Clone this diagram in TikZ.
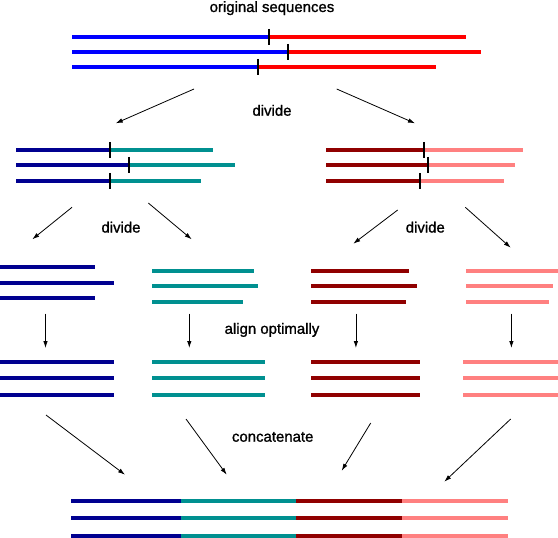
\documentclass[tikz,border=0pt]{standalone}
\usepackage{fontspec}
\setmainfont[FakeBold=1.2]{Liberation Sans}
\usetikzlibrary{arrows.meta}
\definecolor{seqblue}{RGB}{0,0,255}
\definecolor{seqred}{RGB}{255,0,0}
\definecolor{dblue}{RGB}{0,0,144}
\definecolor{dteal}{RGB}{0,144,144}
\definecolor{dred}{RGB}{144,0,0}
\definecolor{lpink}{RGB}{255,128,128}
\begin{document}
\begin{tikzpicture}[x=1bp,y=-1bp,
  seq/.style={line width=4bp},
  cut/.style={line width=2bp, draw=black},
  arr/.style={line width=0.8bp, -{Latex[length=7bp,width=4.5bp]}},
  lbl/.style={font=\fontsize{15}{18}\selectfont, inner sep=0pt, anchor=base}]
\useasboundingbox (0,0) rectangle (558,538);

% labels
\node[lbl] (t0) at (272,12) {original sequences};
\node[lbl] (t1) at (272,115.7) {divide};
\node[lbl] (t2) at (121,232.5) {divide};
\node[lbl] (t3) at (425.3,232.5) {divide};
\node[lbl] (t4) at (272,333.8) {align optimally};
\node[lbl] (t5) at (272.7,441.7) {concatenate};

% original sequences
\draw[seq,seqblue] (72,37) -- (269,37);
\draw[seq,seqred] (269,37) -- (466,37);
\draw[seq,seqblue] (72,52) -- (288,52);
\draw[seq,seqred] (288,52) -- (481,52);
\draw[seq,seqblue] (72,67) -- (258,67);
\draw[seq,seqred] (258,67) -- (436,67);
\draw[cut] (269,29) -- (269,45);
\draw[cut] (288,44) -- (288,60);
\draw[cut] (258,59) -- (258,75);

% first division, left
\draw[seq,dblue] (16,150) -- (110,150);
\draw[seq,dteal] (110,150) -- (213,150);
\draw[seq,dblue] (16,165) -- (129,165);
\draw[seq,dteal] (129,165) -- (235,165);
\draw[seq,dblue] (16,181) -- (110,181);
\draw[seq,dteal] (110,181) -- (201,181);
\draw[cut] (110,142) -- (110,158);
\draw[cut] (129,157) -- (129,173);
\draw[cut] (110,173) -- (110,189);

% first division, right
\draw[seq,dred] (326,150) -- (424,150);
\draw[seq,lpink] (424,150) -- (523,150);
\draw[seq,dred] (326,165) -- (428,165);
\draw[seq,lpink] (428,165) -- (515,165);
\draw[seq,dred] (326,181) -- (420,181);
\draw[seq,lpink] (420,181) -- (504,181);
\draw[cut] (424,142) -- (424,158);
\draw[cut] (428,157) -- (428,173);
\draw[cut] (420,173) -- (420,189);

% second division
\draw[seq,dblue] (0,267) -- (95,267);
\draw[seq,dblue] (0,283) -- (114,283);
\draw[seq,dblue] (0,298) -- (95,298);
\draw[seq,dteal] (152,271) -- (254,271);
\draw[seq,dteal] (152,286) -- (258,286);
\draw[seq,dteal] (152,302) -- (243,302);
\draw[seq,dred] (311,271) -- (409,271);
\draw[seq,dred] (311,286) -- (417,286);
\draw[seq,dred] (311,302) -- (406,302);
\draw[seq,lpink] (466,271) -- (558,271);
\draw[seq,lpink] (466,286) -- (553,286);
\draw[seq,lpink] (466,302) -- (549,302);

% aligned blocks
\foreach \y in {362,378,395} {
  \draw[seq,dblue] (0,\y) -- (114,\y);
  \draw[seq,dteal] (152,\y) -- (265,\y);
  \draw[seq,dred] (311,\y) -- (420,\y);
  \draw[seq,lpink] (463,\y) -- (558,\y);
}

% concatenated
\foreach \y in {501,518,536} {
  \draw[seq,dblue] (71,\y) -- (181,\y);
  \draw[seq,dteal] (181,\y) -- (296,\y);
  \draw[seq,dred] (296,\y) -- (402,\y);
  \draw[seq,lpink] (402,\y) -- (508,\y);
}

% arrow end points
\coordinate (a1s) at (194,89);    \coordinate (a1e) at (115.7,123.3);
\coordinate (a2s) at (336.7,89);  \coordinate (a2e) at (415,123.3);
\coordinate (b1s) at (72,207.3);  \coordinate (b1e) at (32.3,239.3);
\coordinate (b2s) at (148.3,203); \coordinate (b2e) at (191.7,239.3);
\coordinate (b3s) at (397.7,210); \coordinate (b3e) at (353.3,243.7);
\coordinate (b4s) at (465.3,207.3); \coordinate (b4e) at (510.7,247.7);
\coordinate (c1s) at (45.5,313.5); \coordinate (c1e) at (45.5,348);
\coordinate (c2s) at (189.3,313.5); \coordinate (c2e) at (189.3,348);
\coordinate (c3s) at (355.9,313.5); \coordinate (c3e) at (355.9,348);
\coordinate (c4s) at (511.4,313.5); \coordinate (c4e) at (511.4,348);
\coordinate (d1s) at (46,415);    \coordinate (d1e) at (125,474.7);
\coordinate (d2s) at (186,419);   \coordinate (d2e) at (226.7,474.7);
\coordinate (d3s) at (370.7,423); \coordinate (d3e) at (341.7,470.7);
\coordinate (d4s) at (510.7,419); \coordinate (d4e) at (444.3,481.7);

\foreach \p in {a1,a2,b1,b2,b3,b4,c1,c2,c3,c4,d1,d2,d3,d4}
  \draw[arr] (\p s) -- (\p e);
\end{tikzpicture}
\end{document}
